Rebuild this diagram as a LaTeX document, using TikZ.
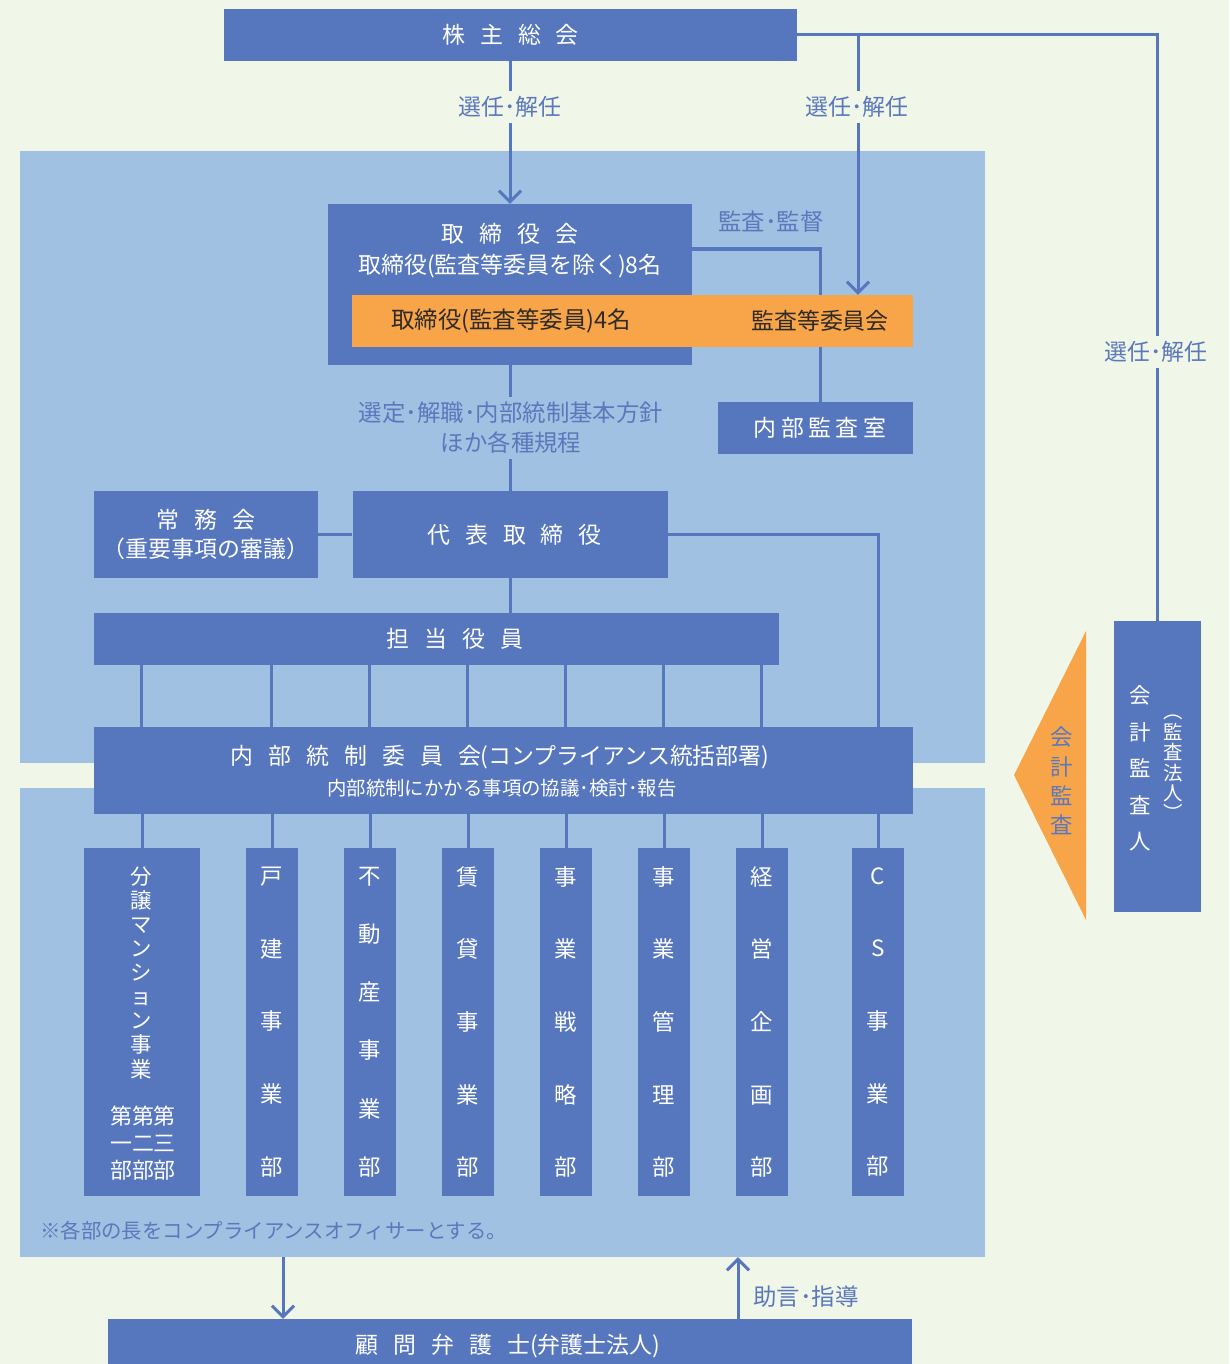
\documentclass[tikz,border=0pt]{standalone}
\usepackage{fontspec}
\setmainfont{Noto Sans CJK JP}
\usetikzlibrary{arrows.meta}
\definecolor{bgc}{HTML}{F0F6E8}
\definecolor{lb}{HTML}{A1C1E3}
\definecolor{db}{HTML}{5677BD}
\definecolor{og}{HTML}{F8A54A}
\definecolor{tb}{HTML}{5A78BB}
\definecolor{dk}{HTML}{2E2A26}
\newcommand\kk{\hspace{15bp}}
\pgfdeclarelayer{bgl}
\pgfdeclarelayer{lines}
\pgfsetlayers{bgl,lines,main}
\begin{document}
\begin{tikzpicture}[x=1bp,y=-1bp,
  box/.style={fill=db, text=white, inner sep=0pt, align=center, font=\fontsize{23}{30}\selectfont},
  panel/.style={fill=lb, inner sep=0pt},
  conn/.style={draw=db, line width=3bp},
  arr/.style={conn, -{Straight Barb[length=11bp,width=22bp]}},
  lbl/.style={text=tb, font=\fontsize{23}{30}\selectfont, inner sep=5bp, align=center},
  vt/.style={text=white, align=center, inner sep=0pt},
]
\begin{pgfonlayer}{bgl}
\fill[bgc] (0,0) rectangle (1229,1364);
\node[panel, minimum width=965bp, minimum height=612bp] (pt) at (502.5,457) {};
\node[panel, minimum width=965bp, minimum height=469bp] (pb) at (502.5,1022.5) {};
\end{pgfonlayer}
\useasboundingbox (0,0) rectangle (1229,1364);

% boxes
\node[box, minimum width=573bp, minimum height=52bp] (gm) at (510.5,35) {株\kk 主\kk 総\kk 会};
\node[box, minimum width=364bp, minimum height=161bp] (board) at (510,284.5) {};
\node[vt, font=\fontsize{23}{31}\selectfont] (boardt) at (510,251) {取\kk 締\kk 役\kk 会\\取締役(監査等委員を除く)8名};
\node[fill=og, inner sep=0pt, minimum width=561bp, minimum height=52bp] (ob) at (632.5,321) {};
\node[text=dk, inner sep=0pt, font=\fontsize{23.5}{30}\selectfont] (obl) at (511,321) {取締役(監査等委員)4名};
\node[text=dk, inner sep=0pt, font=\fontsize{23}{30}\selectfont] (obr) at (820,321) {監査等委員会};
\node[box, minimum width=195bp, minimum height=52bp] (naibu) at (815.5,428) {};
\node[vt, font=\fontsize{23}{30}\selectfont] (naibut) at (820,428) {内\hspace{4.5bp}部\hspace{4.5bp}監\hspace{4.5bp}査\hspace{4.5bp}室};
\node[box, minimum width=224bp, minimum height=87bp] (jomu) at (206,534.5) {常\kk 務\kk 会\\（重要事項の審議）};
\node[box, minimum width=315bp, minimum height=87bp] (rep) at (510,534.5) {};
\node[vt, font=\fontsize{23}{30}\selectfont] (rept) at (514.5,534.5) {代\kk 表\kk 取\kk 締\kk 役};
\node[box, minimum width=685bp, minimum height=52bp] (tanto) at (436.5,639) {};
\node[vt, font=\fontsize{23}{30}\selectfont] (tantot) at (455,639) {担\kk 当\kk 役\kk 員};
\node[box, minimum width=819bp, minimum height=87bp] (ic) at (503.5,770.5) {};
\node[vt, font=\fontsize{23}{30}\selectfont] (ict1) at (500,757) {内\kk 部\kk 統\kk 制\kk 委\kk 員\kk 会(コンプライアンス統括部署)};
\node[vt, font=\fontsize{19.5}{22}\selectfont] (ict2) at (502,788) {内部統制にかかる事項の協議･検討･報告};

% departments
\node[box, minimum width=116bp, minimum height=348bp] (d1) at (142,1022) {};
\node[vt, font=\fontsize{21.5}{24.1}\selectfont] (d1a) at (141,973) {分\\譲\\マ\\ン\\シ\\ョ\\ン\\事\\業};
\node[vt, font=\fontsize{22}{27}\selectfont] (d1b) at (143,1143) {第第第\\一二三\\部部部};
\node[box, minimum width=52bp, minimum height=348bp, font=\fontsize{22.5}{73}\selectfont] (d2) at (272,1022) {戸\\建\\事\\業\\部};
\node[box, minimum width=52bp, minimum height=348bp, font=\fontsize{22.5}{58.4}\selectfont] (d3) at (370,1022) {不\\動\\産\\事\\業\\部};
\node[box, minimum width=52bp, minimum height=348bp, font=\fontsize{22.5}{73}\selectfont] (d4) at (468,1022) {賃\\貸\\事\\業\\部};
\node[box, minimum width=52bp, minimum height=348bp, font=\fontsize{22.5}{73}\selectfont] (d5) at (566,1022) {事\\業\\戦\\略\\部};
\node[box, minimum width=52bp, minimum height=348bp, font=\fontsize{22.5}{73}\selectfont] (d6) at (664,1022) {事\\業\\管\\理\\部};
\node[box, minimum width=52bp, minimum height=348bp, font=\fontsize{22.5}{73}\selectfont] (d7) at (762,1022) {経\\営\\企\\画\\部};
\node[box, minimum width=52bp, minimum height=348bp, font=\fontsize{22.5}{73}\selectfont] (d8) at (878,1022) {C\\S\\事\\業\\部};

% auditor
\fill[og] (1014,775) -- (1086,631) -- (1086,920) -- cycle;
\node[text=tb, align=center, inner sep=0pt, font=\fontsize{22.5}{29.3}\selectfont] (kt) at (1062,781) {会\\計\\監\\査};
\node[box, minimum width=87bp, minimum height=291bp] (kaikei) at (1157.5,766.5) {};
\node[vt, font=\fontsize{21.5}{36.75}\selectfont] (kk1) at (1140,768.5) {会\\計\\監\\査\\人};
\node[vt, font=\fontsize{19.5}{20.5}\selectfont] (kk2) at (1173,768) {︵\\監\\査\\法\\人\\︶};

% lawyer
\node[box, minimum width=804bp, minimum height=51bp] (law) at (510,1344.5) {};
\node[vt, font=\fontsize{23}{30}\selectfont] (lawt) at (508,1346) {顧\kk 問\kk 弁\kk 護\kk 士(弁護士法人)};

% connectors
\begin{pgfonlayer}{lines}
\draw[arr] (board.north |- gm.south) -- (board.north);
\draw[conn] (gm.east) -| (kaikei.north);
\coordinate (br) at (858,35);
\draw[arr] (br) -- (br |- ob.north);
\coordinate (bo) at (692,249);
\draw[conn] (bo) -| ([xshift=4.5bp]naibu.north);
\draw[conn] (board.south) -- (rep.north);
\draw[conn] (jomu.east) -- (rep.west);
\draw[conn] (rep.south) -- (rep.south |- tanto.north);
\draw[conn] (rep.east) -| (ic.north -| d8.north);
\foreach \d in {d1,d2,d3,d4,d5,d6,d7}{
  \draw[conn] ([xshift=-1bp]tanto.south -| \d.north) -- ([xshift=-1bp]ic.north -| \d.north);
}
\foreach \d in {d1,d2,d3,d4,d5,d6,d7,d8}{
  \draw[conn] (ic.south -| \d.north) -- (\d.north);
}
\coordinate (la) at (283,1257);
\draw[arr] (la) -- (la |- law.north);
\coordinate (lu) at (738,1319);
\draw[arr] (lu) -- (lu |- pb.south);
\end{pgfonlayer}

% labels
\node[lbl, fill=bgc] (l1) at (510,107) {選任･解任};
\node[lbl, fill=bgc] (l2) at (857,107) {選任･解任};
\node[lbl, fill=bgc] (l3) at (1156,352) {選任･解任};
\node[lbl, font=\fontsize{23.5}{30}\selectfont] (l4) at (771,222) {監査･監督};
\node[lbl, fill=lb, font=\fontsize{23.5}{30}\selectfont] (l5) at (511,428) {選定･解職･内部統制基本方針\\ほか各種規程};
\node[lbl, anchor=west, font=\fontsize{23.5}{30}\selectfont] (l6) at (748,1297) {助言･指導};
\node[lbl, anchor=west, inner sep=0pt, font=\fontsize{20.5}{26}\selectfont] (note) at (40,1231) {※各部の長をコンプライアンスオフィサーとする。};
\end{tikzpicture}
\end{document}
